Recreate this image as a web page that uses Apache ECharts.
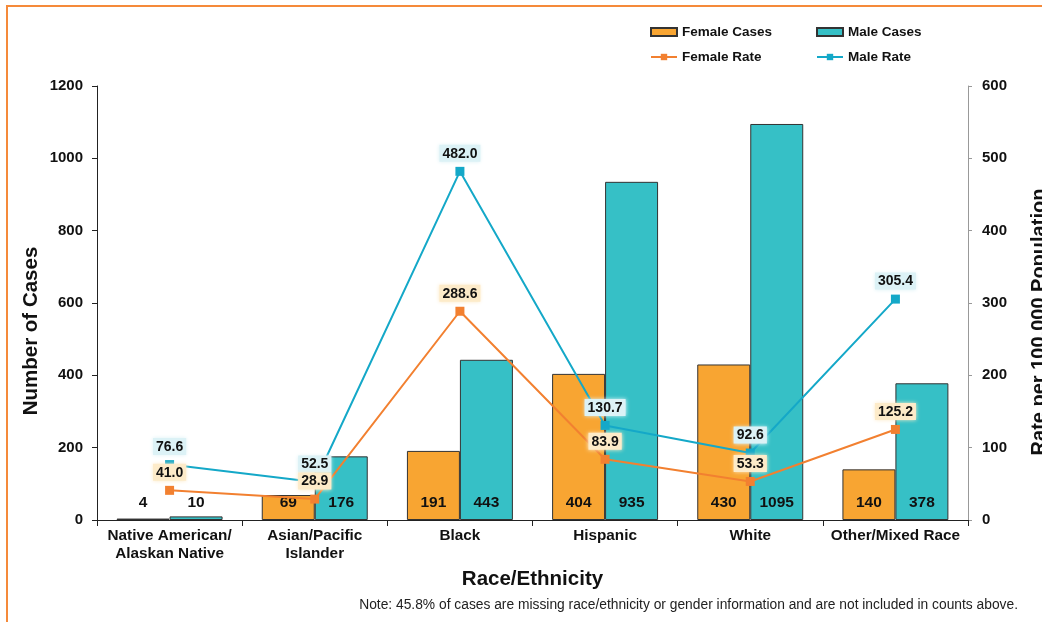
<!DOCTYPE html>
<html><head><meta charset="utf-8">
<script src="https://cdn.jsdelivr.net/npm/echarts@6/dist/echarts.min.js"></script>
<style>html,body{margin:0;padding:0;background:#fff}#c{width:1042px;height:622px}</style>
</head><body><div id="c"></div>
<script>
const categories = ['Native American/\nAlaskan Native', 'Asian/Pacific\nIslander', 'Black', 'Hispanic', 'White', 'Other/Mixed Race'];
const femaleCases = [4, 69, 191, 404, 430, 140];
const maleCases = [10, 176, 443, 935, 1095, 378];
const femaleRate = [41.0, 28.9, 288.6, 83.9, 53.3, 125.2];
const maleRate = [76.6, 52.5, 482.0, 130.7, 92.6, 305.4];
const leftTicks = [0, 200, 400, 600, 800, 1000, 1200];
const rightTicks = [0, 100, 200, 300, 400, 500, 600];

const FONT = 'Liberation Sans, Arial, Helvetica, sans-serif';
const C_F = '#F8A532', C_M = '#36C0C6', C_FR = '#F28030', C_MR = '#14A8C8';

const chart = echarts.init(document.getElementById('c'), null, {renderer: 'canvas'});
const legendText = {fontFamily: FONT, fontWeight: 'bold', fontSize: 13.5, color: '#111'};
function lg(name, left, top, icon) {
  const o = {data: [name], left: left, top: top, padding: 0, itemWidth: 26, itemHeight: 8, textStyle: legendText, selectedMode: false};
  if (icon) o.icon = icon;
  return o;
}
const barLabel = {show: true, position: 'insideBottom', distance: 9, fontFamily: FONT, fontWeight: 'bold', fontSize: 15.5, color: '#111'};
function rateLabel(bg) {
  return {show: true, position: 'top', distance: 5, fontFamily: FONT, fontWeight: 'bold', fontSize: 14, color: '#111',
    backgroundColor: bg, padding: [2, 3, 1, 3], shadowBlur: 4, shadowColor: bg,
    formatter: p => p.value.toFixed(1)};
}
chart.setOption({
  animation: false,
  textStyle: {fontFamily: FONT},
  grid: {left: 97, right: 74, top: 86, bottom: 102, containLabel: false},
  legend: [lg('Female Cases', 650, 25, 'rect'), lg('Male Cases', 816, 25, 'rect'), lg('Female Rate', 650, 50), lg('Male Rate', 816, 50)],
  xAxis: {
    type: 'category', data: categories,
    name: 'Race/Ethnicity', nameLocation: 'middle', nameGap: 49,
    nameTextStyle: {fontFamily: FONT, fontWeight: 'bold', fontSize: 20.5, color: '#111'},
    axisLine: {lineStyle: {color: '#222', width: 1}},
    axisTick: {show: true, alignWithLabel: false, length: 6, lineStyle: {color: '#222'}},
    axisLabel: {fontFamily: FONT, fontWeight: 'bold', fontSize: 15.3, color: '#111', margin: 7, lineHeight: 18, interval: 0}
  },
  yAxis: [{
    type: 'value', min: 0, max: 1200, interval: 200,
    axisLine: {show: true, lineStyle: {color: '#222'}},
    axisTick: {show: true, length: 5, lineStyle: {color: '#222'}},
    splitLine: {show: false},
    axisLabel: {fontFamily: FONT, fontWeight: 'bold', fontSize: 15, color: '#111', margin: 14,
      formatter: v => leftTicks.includes(v) ? String(v) : ''}
  }, {
    type: 'value', min: 0, max: 600, interval: 100, position: 'right',
    axisLine: {show: true, lineStyle: {color: '#999'}},
    axisTick: {show: true, length: 4, lineStyle: {color: '#999'}},
    splitLine: {show: false},
    axisLabel: {fontFamily: FONT, fontWeight: 'bold', fontSize: 15, color: '#111', margin: 14,
      formatter: v => rightTicks.includes(v) ? String(v) : ''}
  }],
  series: [
    {name: 'Female Cases', type: 'bar', data: femaleCases, yAxisIndex: 0, barGap: '0%', barCategoryGap: '27%',
      itemStyle: {color: C_F, borderColor: '#333', borderWidth: 1}, label: barLabel, z: 2},
    {name: 'Male Cases', type: 'bar', data: maleCases, yAxisIndex: 0, barGap: '0%', barCategoryGap: '27%',
      itemStyle: {color: C_M, borderColor: '#333', borderWidth: 1}, label: barLabel, z: 2},
    {name: 'Female Rate', type: 'line', data: femaleRate, yAxisIndex: 1, symbol: 'rect', symbolSize: 9,
      lineStyle: {color: C_FR, width: 2}, itemStyle: {color: C_FR}, label: rateLabel('#FDEBC9'), z: 7},
    {name: 'Male Rate', type: 'line', data: maleRate, yAxisIndex: 1, symbol: 'rect', symbolSize: 9,
      lineStyle: {color: C_MR, width: 2}, itemStyle: {color: C_MR}, label: rateLabel('#DCF2F6'), z: 6}
  ],
  graphic: [
    {type: 'polyline', shape: {points: [[7, 622], [7, 6], [1042, 6]]}, style: {stroke: '#F58A3A', lineWidth: 2, fill: null}},
    {type: 'text', x: 31, y: 331, rotation: Math.PI / 2,
      style: {text: 'Number of Cases', font: 'bold 20.5px ' + FONT, fill: '#111', align: 'center', verticalAlign: 'middle'}},
    {type: 'text', x: 1039, y: 322, rotation: Math.PI / 2,
      style: {text: 'Rate per 100,000 Population', font: 'bold 20px ' + FONT, fill: '#111', align: 'center', verticalAlign: 'middle'}},
    {type: 'text', x: 1018, y: 605,
      style: {text: 'Note: 45.8% of cases are missing race/ethnicity or gender information and are not included in counts above.',
        font: '13.8px ' + FONT, fill: '#222', align: 'right', verticalAlign: 'middle'}}
  ]
});
</script></body></html>
